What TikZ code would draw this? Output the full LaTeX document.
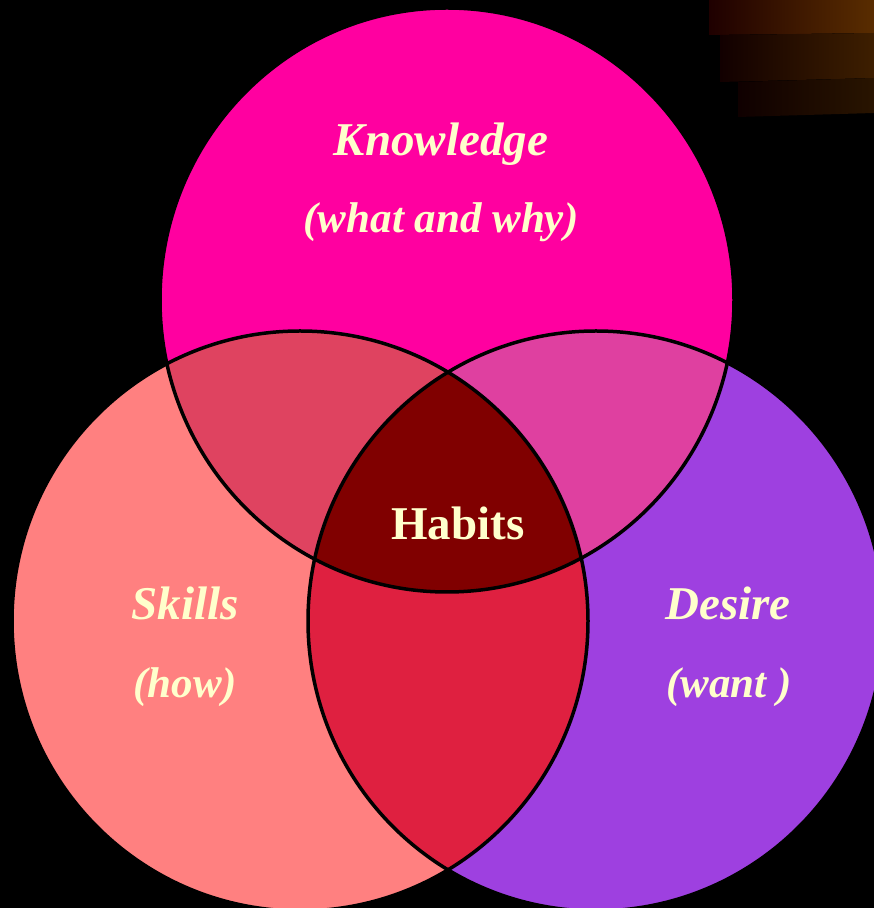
\documentclass[tikz,border=0pt]{standalone}
\usepackage{fontspec}
\setmainfont{Liberation Serif}
\usepackage{xcolor}
\usetikzlibrary{positioning}
\definecolor{knowpink}{HTML}{FF00A0}
\definecolor{skillsalmon}{HTML}{FF8080}
\definecolor{desirepurple}{HTML}{9E40E0}
\definecolor{ksred}{HTML}{DF4360}
\definecolor{kdpink}{HTML}{DF40A0}
\definecolor{sdred}{HTML}{DF2040}
\definecolor{habitred}{HTML}{800000}
\definecolor{cream}{HTML}{FFFFCC}
\tikzset{
  lbl/.style={text=cream, anchor=base, font=\fontsize{47}{50}\selectfont\bfseries\itshape},
  sublbl/.style={text=cream, anchor=base, font=\fontsize{43}{46}\selectfont\bfseries\itshape},
  hab/.style={text=cream, anchor=base, font=\fontsize{47}{50}\selectfont\bfseries},
  rim/.style={draw=black, line width=3.5pt}
}
\begin{document}
\begin{tikzpicture}[x=1pt,y=1pt]
      % Background
      \fill[black] (0,0) rectangle (874,908);
      \useasboundingbox (0,0) rectangle (874,908);

      % Brown bands at the top right
      \shade[left color=black!88!red, right color=black!65!orange] (709,873) -- (874,875) -- (874,908) -- (709,908) -- cycle;
      \shade[left color=black!93!red, right color=black!76!orange] (720,826) -- (874,830) -- (874,875) -- (720,873) -- cycle;
      \shade[left color=black!94!red, right color=black!84!orange] (738,791) -- (874,795) -- (874,830) -- (738,826) -- cycle;

      % Circle centres
      \coordinate (kc) at (447,608);
      \coordinate (sc) at (300,287);
      \coordinate (dc) at (596,287);

      % Circles
      \fill[knowpink] (kc) ellipse (287 and 292);
      \fill[skillsalmon] (sc) ellipse (288 and 290);
      \fill[desirepurple] (dc) ellipse (288 and 290);

      % Overlaps
      \begin{scope}
        \clip (kc) ellipse (287 and 292);
        \fill[ksred] (sc) ellipse (288 and 290);
        \fill[kdpink] (dc) ellipse (288 and 290);
      \end{scope}
      \begin{scope}
        \clip (sc) ellipse (288 and 290);
        \fill[sdred] (dc) ellipse (288 and 290);
        \clip (dc) ellipse (288 and 290);
        \fill[habitred] (kc) ellipse (287 and 292);
      \end{scope}

      % Outlines
      \draw[rim] (kc) ellipse (287 and 292);
      \draw[rim] (sc) ellipse (288 and 290);
      \draw[rim] (dc) ellipse (288 and 290);

      % Labels
      \node[lbl] (know) at (441,752) {Knowledge};
      \node[sublbl] (knowsub) at (441,675) {(what and why)};
      \node[lbl] (skills) at (185,288) {Skills};
      \node[sublbl] (skillsub) at (185,210) {(how)};
      \node[lbl] (desire) at (728,288) {Desire};
      \node[sublbl] (desiresub) at (729,210) {(want )};
      \node[hab] (habits) at (458,368) {Habits};
\end{tikzpicture}
\end{document}
